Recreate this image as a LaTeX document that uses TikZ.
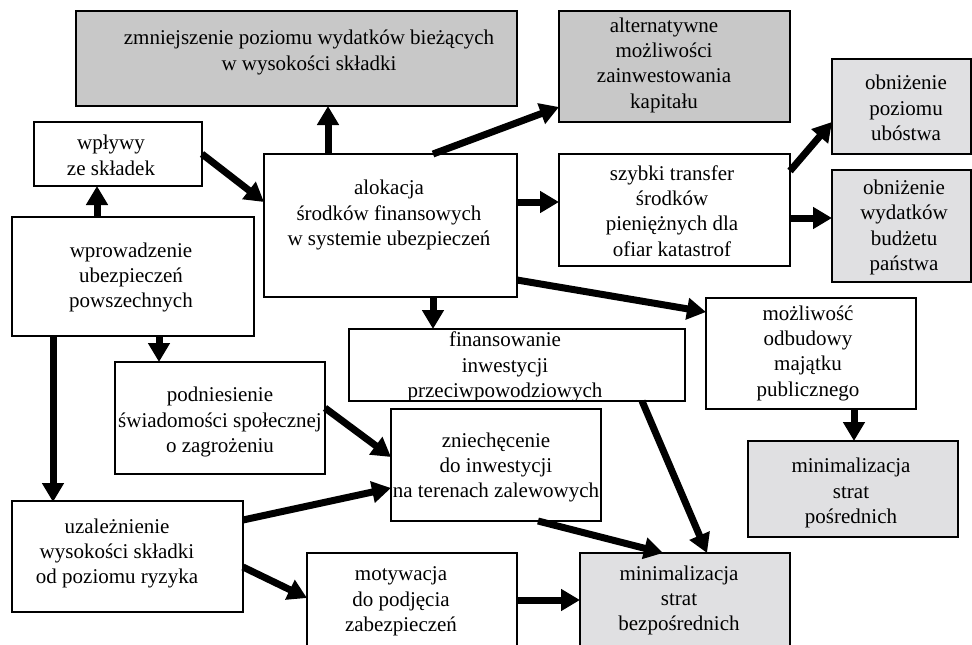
\documentclass[tikz,border=0pt]{standalone}
\usepackage{fontspec}
\setmainfont{Liberation Serif}
\usetikzlibrary{arrows.meta,calc}
\definecolor{darkbox}{RGB}{200,200,200}
\definecolor{lightbox}{RGB}{224,224,226}
\newcommand\bt[1]{\strut#1\strut}
\begin{document}
\begin{tikzpicture}[x=1pt,y=-1pt,
 box/.style={draw=black,line width=1.5pt,inner sep=0pt,outer sep=0pt,fill=white},
 dbox/.style={box,fill=darkbox},
 lbox/.style={box,fill=lightbox},
 txt/.style={align=center,inner sep=0pt,font=\fontsize{21}{25.3}\selectfont},
 arr/.style={line width=7pt,-{Triangle[width=21pt,length=19pt]}}]
\useasboundingbox (0,0) rectangle (972,645);
\clip (0,0) rectangle (972,645);
% boxes
\node[dbox,minimum width=441pt,minimum height=95pt] (zm) at (296.5,58.5) {};
\node[dbox,minimum width=231pt,minimum height=111pt] (alt) at (674.5,66.5) {};
\node[box,minimum width=168pt,minimum height=64pt] (wpl) at (118,154) {};
\node[box,minimum width=253pt,minimum height=143pt] (alok) at (390.5,225.5) {};
\node[box,minimum width=231pt,minimum height=112pt] (szy) at (674.5,210) {};
\node[lbox,minimum width=139pt,minimum height=95pt] (ob1) at (901.5,106.5) {};
\node[lbox,minimum width=139pt,minimum height=112pt] (ob2) at (901.5,226) {};
\node[box,minimum width=242pt,minimum height=119pt] (wpr) at (133,276.5) {};
\node[box,minimum width=210pt,minimum height=111pt] (moz) at (811,353.5) {};
\node[box,minimum width=336pt,minimum height=72pt] (fin) at (517,365) {};
\node[box,minimum width=210pt,minimum height=112pt] (pod) at (220,418) {};
\node[box,minimum width=210pt,minimum height=112pt] (zni) at (496,465) {};
\node[lbox,minimum width=210pt,minimum height=96pt] (mnp) at (853,489) {};
\node[box,minimum width=231pt,minimum height=111pt] (uza) at (127.5,556.5) {};
\node[box,minimum width=210pt,minimum height=111pt] (mot) at (412,608.5) {};
\node[lbox,minimum width=210pt,minimum height=111pt] (mnb) at (685,608.5) {};
% texts
\node[txt] (zmT) at (309,52.5) {\bt{zmniejszenie poziomu wydatków bieżących\\w wysokości składki}};
\node[txt] (altT) at (664,65) {\bt{alternatywne\\możliwości\\zainwestowania\\kapitału}};
\node[txt] (wplT) at (111,157.5) {\bt{wpływy\\ze składek}};
\node[txt] (alokT) at (389,215) {\bt{alokacja\\środków finansowych\\w systemie ubezpieczeń}};
\node[txt] (szyT) at (672,213) {\bt{szybki transfer\\środków\\pieniężnych dla\\ofiar katastrof}};
\node[txt] (ob1T) at (906,110) {\bt{obniżenie\\poziomu\\ubóstwa}};
\node[txt] (ob2T) at (904,227.5) {\bt{obniżenie\\wydatków\\budżetu\\państwa}};
\node[txt] (wprT) at (131,277.5) {\bt{wprowadzenie\\ubezpieczeń\\powszechnych}};
\node[txt] (mozT) at (808,353) {\bt{możliwość\\odbudowy\\majątku\\publicznego}};
\node[txt] (finT) at (505,367) {\bt{finansowanie\\inwestycji\\przeciwpowodziowych}};
\node[txt] (podT) at (220,422) {\bt{podniesienie\\świadomości społecznej\\o zagrożeniu}};
\node[txt] (zniT) at (496,467.5) {\bt{zniechęcenie\\do inwestycji\\na terenach zalewowych}};
\node[txt] (mnpT) at (851,493) {\bt{minimalizacja\\strat\\pośrednich}};
\node[txt] (uzaT) at (117,553.5) {\bt{uzależnienie\\wysokości składki\\od poziomu ryzyka}};
\node[txt] (motT) at (401,601) {\bt{motywacja\\do podjęcia\\zabezpieczeń}};
\node[txt] (mnbT) at (679,600.5) {\bt{minimalizacja\\strat\\bezpośrednich}};
% arrows
\draw[arr] ($(alok.north west)+(64,0)$) -- ($(zm.south west)+(252,0)$);
\draw[arr] ($(wpl.north east)+(0,32)$) -- ($(alok.north west)+(0,48)$);
\draw[arr] ($(wpr.north west)+(85,0)$) -- ($(wpl.south west)+(63,0)$);
\draw[arr] ($(alok.north west)+(169,0)$) -- ($(alt.south west)+(0,-15)$);
\draw[arr] ($(alok.north east)+(0,48)$) -- ($(szy.north west)+(0,48)$);
\draw[arr] ($(szy.north east)+(0,17)$) -- ($(ob1.south west)+(0,-32)$);
\draw[arr] ($(szy.north east)+(0,64)$) -- ($(ob2.north west)+(0,48)$);
\draw[arr] ($(alok.south east)+(0,-17)$) -- ($(moz.north west)+(0,14)$);
\draw[arr] ($(alok.south west)+(169,0)$) -- ($(fin.north west)+(84,0)$);
\draw[arr] ($(wpr.south west)+(147,0)$) -- ($(pod.north west)+(44,0)$);
\draw[arr] ($(wpr.south west)+(41,0)$) -- ($(uza.north west)+(41,1)$);
\draw[arr] ($(pod.north east)+(0,46)$) -- ($(zni.north west)+(0,48)$);
\draw[arr] ($(uza.north east)+(0,19)$) -- ($(zni.north west)+(0,79)$);
\draw[arr] ($(uza.north east)+(0,66)$) -- ($(mot.north west)+(0,45)$);
\draw[arr] ($(mot.north east)+(0,47)$) -- ($(mnb.north west)+(0,47)$);
\draw[arr] ($(zni.south west)+(147,0)$) -- ($(mnb.north west)+(83,0)$);
\draw[arr] ($(fin.south west)+(293,0)$) -- ($(mnb.north west)+(127,0)$);
\draw[arr] ($(moz.south west)+(148,0)$) -- ($(mnp.north west)+(106,0)$);
\end{tikzpicture}
\end{document}
